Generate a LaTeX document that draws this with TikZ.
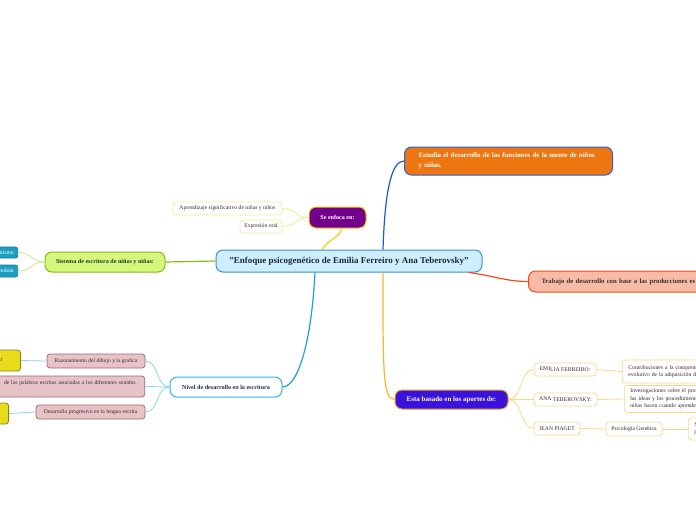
\documentclass[tikz,border=0pt]{standalone}
\usepackage{fontspec}
\setmainfont{Liberation Serif}
\usetikzlibrary{calc}

\definecolor{rootfill}{HTML}{CDEEFB}
\definecolor{rootline}{HTML}{3D8FD9}
\definecolor{roottext}{HTML}{1E2A3A}
\definecolor{orangefill}{HTML}{EE7611}
\definecolor{orangeline}{HTML}{2A62D4}
\definecolor{mentelink}{HTML}{1559D1}
\definecolor{salmonfill}{HTML}{F8BBA6}
\definecolor{salmonline}{HTML}{F04A1E}
\definecolor{salmontext}{HTML}{3A3030}
\definecolor{purplefill}{HTML}{73008C}
\definecolor{yellowline}{HTML}{F2CF13}
\definecolor{yellowleaf}{HTML}{F9E7A0}
\definecolor{yellowlink}{HTML}{F7E38D}
\definecolor{greenfill}{HTML}{D6F77E}
\definecolor{greenline}{HTML}{86BD12}
\definecolor{greenlink}{HTML}{C9E88A}
\definecolor{greentext}{HTML}{1F3B1F}
\definecolor{tealfill}{HTML}{1C9FC0}
\definecolor{tealline}{HTML}{157D9A}
\definecolor{nivelline}{HTML}{2FB4EF}
\definecolor{nivellink}{HTML}{1AA0E0}
\definecolor{skylink}{HTML}{8AD2F2}
\definecolor{niveltext}{HTML}{1A3040}
\definecolor{pinkfill}{HTML}{E6C3C7}
\definecolor{pinkline}{HTML}{A0636C}
\definecolor{lemonfill}{HTML}{E8DB1B}
\definecolor{lemonline}{HTML}{8A8420}
\definecolor{violetfill}{HTML}{3A12DC}
\definecolor{violetline}{HTML}{E8A020}
\definecolor{goldlink}{HTML}{F7B531}
\definecolor{orangeleaf}{HTML}{FDD58A}
\definecolor{leaftext}{HTML}{3A2A2A}

\tikzset{
  topic/.style={draw, rounded corners=7pt, line width=1pt, inner sep=0pt,
                align=center, font=\bfseries\fontsize{6.1}{7}\selectfont},
  leaf/.style={draw, rounded corners=3pt, line width=0.7pt, fill=white, inner sep=0pt,
               text=leaftext, font=\fontsize{5.7}{7.4}\selectfont},
  tealbox/.style={draw=tealline, fill=tealfill, rounded corners=2pt, line width=0.6pt,
                  text=white, inner xsep=4pt, inner ysep=0pt, font=\fontsize{5.6}{6.5}\selectfont},
  pinkbox/.style={draw=pinkline, fill=pinkfill, rounded corners=3pt, line width=0.7pt,
                  inner xsep=6pt, inner ysep=0pt, text=leaftext, font=\fontsize{5.6}{7}\selectfont},
  lemonbox/.style={draw=lemonline, fill=lemonfill, rounded corners=3pt, line width=0.8pt,
                   inner ysep=0pt, font=\fontsize{5.6}{7}\selectfont},
  branch/.style={line width=1.2pt},
  twig/.style={line width=0.8pt},
  toleft/.style={to path={.. controls +(-14,0) and +(14,0) .. (\tikztotarget)}},
  toright/.style={to path={.. controls +(14,0) and +(-14,0) .. (\tikztotarget)}},
}

\begin{document}
\begin{tikzpicture}[x=1pt,y=-1pt]
  \useasboundingbox (0,0) rectangle (696,520);
  \clip (0,0) rectangle (696,520);

  % central topic
  \node[topic, fill=rootfill, draw=rootline, text=roottext, minimum width=266pt, minimum height=22pt,
        font=\bfseries\fontsize{9}{10}\selectfont] (root) at (349,261)
        {"Enfoque psicogenético de Emilia Ferreiro y Ana Teberovsky"};

  % main topics
  \node[topic, fill=orangefill, draw=orangeline, text=white, anchor=west, minimum height=28pt,
        text width=180pt, align=left, inner xsep=14pt, font=\bfseries\fontsize{6.9}{10}\selectfont]
        (mente) at (404,161) {Estudia el desarrollo de las funciones de la mente de niños\\y niñas.};
  \node[topic, fill=salmonfill, draw=salmonline, text=salmontext, anchor=west, minimum height=21pt,
        text width=260pt, align=left, inner xsep=13pt, font=\bfseries\fontsize{6.7}{7.5}\selectfont]
        (trabajo) at (528,281.5) {Trabajo de desarrollo con base a las producciones es};
  \node[topic, fill=purplefill, draw=yellowline, text=white, minimum width=57pt, minimum height=21pt]
        (enfoca) at (337.5,217.5) {Se enfoca en:};
  \node[topic, fill=greenfill, draw=greenline, text=greentext, minimum width=120pt, minimum height=20pt]
        (sistema) at (105,262) {Sistema de escritura de niños y niñas:};
  \node[topic, fill=white, draw=nivelline, text=niveltext, minimum width=112pt, minimum height=20pt]
        (nivel) at (226,387) {Nivel de desarrollo en la escritura};
  \node[topic, fill=violetfill, draw=violetline, text=white, minimum width=113pt, minimum height=19pt,
        font=\bfseries\fontsize{7}{8}\selectfont] (aportes) at (451.5,399.5) {Esta basado en los aportes de:};

  % subtopics
  \node[leaf, draw=yellowleaf, minimum width=109pt, minimum height=13pt] (aprend) at (227.5,208.5)
        {Aprendizaje significativo de niñas y niños};
  \node[leaf, draw=yellowleaf, minimum width=42pt, minimum height=13pt] (oral) at (261,226.5) {Expresión oral};

  \node[tealbox, anchor=east, minimum height=11pt] (mismo) at (18,252.5) {mismo};
  \node[tealbox, anchor=east, minimum height=12pt] (tendran) at (18,271) {tendrán};

  \node[pinkbox, minimum width=98pt, minimum height=14pt] (razon) at (96,361) {Razonamiento del dibujo y la grafica};
  \node[pinkbox, anchor=east, minimum height=21pt, text width=190pt, align=right, inner xsep=9pt]
        (palabras) at (145,386.5) {de las palabras escritas asociadas a los diferentes sonidos\\[1pt]~};
  \node[pinkbox, minimum width=109pt, minimum height=14pt] (progresivo) at (90.5,412)
        {Desarrollo progresivo en la lengua escrita};
  \node[lemonbox, anchor=east, minimum height=21pt, text width=40pt, align=right, inner xsep=18pt]
        (dibujo) at (21,360.5) {r};
  \node[lemonbox, anchor=east, minimum height=21pt, minimum width=40pt] (lengua) at (9,413.5) {};

  \node[leaf, draw=orangeleaf, minimum width=62pt, minimum height=13pt] (emilia) at (565,369.5)
        {EMI\raisebox{-1pt}{LIA FERREIRO:}};
  \node[leaf, draw=orangeleaf, minimum width=63pt, minimum height=13pt] (ana) at (565.5,399.5)
        {ANA \raisebox{-1pt}{TEBEROVSKY:}};
  \node[leaf, draw=orangeleaf, minimum width=46pt, minimum height=13pt] (piaget) at (557,428.5) {JEAN PIAGET};
  \node[leaf, draw=orangeleaf, anchor=west, minimum height=23pt, text width=100pt, align=left, inner xsep=6pt]
        (contrib) at (622,371.5) {Contribuciones a la comprensión\\evolutivo de la adquisición de};
  \node[leaf, draw=orangeleaf, anchor=west, minimum height=27pt, text width=100pt, align=left, inner xsep=6pt]
        (invest) at (624,399) {Investigaciones sobre el proceso\\las ideas y los procedimientos\\niñas hacen cuando aprenden};
  \node[leaf, draw=orangeleaf, minimum width=56pt, minimum height=14pt] (genetica) at (634,429) {Psicología Genética};
  \node[leaf, draw=orangeleaf, anchor=west, minimum height=22pt, text width=30pt, align=left, inner xsep=6pt]
        (sujeto) at (688,429) {S\\p};

  % branches from the root
  \draw[branch, mentelink] ($(root.north)+(34,0)$) .. controls +(2,-62) and +(-12,0) .. (mente.west);
  \draw[branch, salmonline] ($(root.south east)+(-14,0)$) .. controls +(24,3) and +(-22,0) .. (trabajo.west);
  \draw[branch, yellowline] ($(root.north)+(-27,0)$) .. controls +(6,-10) and +(0,8) .. ($(enfoca.south)+(4,0)$);
  \draw[branch, greenline] (root.west) -- (sistema.east);
  \draw[branch, nivellink] ($(root.south)+(-34,0)$) .. controls +(-4,76) and +(14,0) .. (nivel.east);
  \draw[branch, goldlink] ($(root.south)+(34,0)$) .. controls +(0,96) and +(-12,0) .. (aportes.west);

  % twigs
  \draw[twig, yellowlink] (enfoca.west) to[toleft] (aprend.east);
  \draw[twig, yellowlink] (enfoca.west) to[toleft] (oral.east);
  \draw[twig, greenlink] (sistema.west) to[toleft] (mismo.east);
  \draw[twig, greenlink] (sistema.west) to[toleft] (tendran.east);
  \draw[twig, skylink] (nivel.west) to[toleft] (razon.east);
  \draw[twig, skylink] (nivel.west) to[toleft] (palabras.east);
  \draw[twig, skylink] (nivel.west) to[toleft] (progresivo.east);
  \draw[twig, skylink] (razon.west) -- (dibujo.east);
  \draw[twig, skylink] (progresivo.west) -- (lengua.east);
  \draw[twig, orangeleaf] (aportes.east) to[toright] (emilia.west);
  \draw[twig, orangeleaf] (aportes.east) to[toright] (ana.west);
  \draw[twig, orangeleaf] (aportes.east) to[toright] (piaget.west);
  \draw[twig, orangeleaf] (emilia.east) -- (contrib.west);
  \draw[twig, orangeleaf] (ana.east) -- (invest.west);
  \draw[twig, orangeleaf] (piaget.east) -- (genetica.west);
  \draw[twig, orangeleaf] (genetica.east) -- (sujeto.west);
\end{tikzpicture}
\end{document}
